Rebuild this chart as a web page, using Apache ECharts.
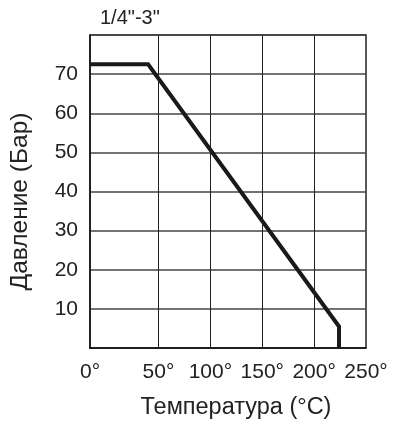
<!DOCTYPE html>
<html>
<head>
<meta charset="utf-8">
<script src="https://cdn.jsdelivr.net/npm/echarts@6/dist/echarts.min.js"></script>
<style>
  html, body { margin: 0; padding: 0; background: #fff; }
  #chart { width: 400px; height: 427px; }
</style>
</head>
<body>
<div id="chart"></div>
<script>
  // данные
  var temperature = [-16, 40, 224, 224]
  var pressure = [72.5, 72.5, 5.5, 0]
  var xTickValues = [-16, 50, 100, 150, 200, 250]
  var xTickLabels = ['0°', '50°', '100°', '150°', '200°', '250°']
  var xGridValues = [50, 100, 150, 200]
  var yTickLabels = ['10', '20', '30', '40', '50', '60', '70']

  var font = "'Liberation Sans', Arial, sans-serif"
  var myChart = echarts.init(document.getElementById('chart'))

  var points = []
  for (var i = 0; i < temperature.length; i++) {
    points.push([temperature[i], pressure[i]])
  }
  var vLines = xGridValues.map(function (v) { return { xAxis: v } })

  var option = {
    animation: false,
    backgroundColor: '#fff',
    title: {
      text: '1/4"-3"',
      left: 95,
      top: 3,
      textStyle: { fontFamily: font, fontSize: 20, fontWeight: 'normal', color: '#222' }
    },
    grid: { left: 90, right: 34, top: 35, bottom: 79, show: true, borderColor: '#222', borderWidth: 1.5 },
    xAxis: {
      type: 'value',
      min: -16,
      max: 250,
      name: 'Температура (°C)',
      nameLocation: 'middle',
      nameGap: 48,
      nameTextStyle: { fontFamily: font, fontSize: 23.5, color: '#222', padding: [0, 0, 0, 16] },
      axisLine: { show: true, onZero: false, lineStyle: { color: '#111', width: 1.5 } },
      axisTick: { show: false, customValues: xTickValues },
      axisLabel: {
        customValues: xTickValues,
        margin: 14,
        fontFamily: font,
        fontSize: 21,
        color: '#222',
        formatter: function (v) {
          var k = xTickValues.indexOf(v)
          return k >= 0 ? xTickLabels[k] : ''
        }
      },
      splitLine: { show: false }
    },
    yAxis: {
      type: 'value',
      min: 0,
      max: 80,
      interval: 10,
      name: 'Давление (Бар)',
      nameLocation: 'middle',
      nameGap: 57,
      nameRotate: 90,
      nameTextStyle: { fontFamily: font, fontSize: 24.5, color: '#222', padding: [0, 20, 0, 0] },
      axisLine: { show: true, onZero: false, lineStyle: { color: '#111', width: 1.5 } },
      axisTick: { show: false },
      axisLabel: {
        margin: 12,
        fontFamily: font,
        fontSize: 21,
        color: '#222',
        formatter: function (v) {
          return yTickLabels.indexOf(String(v)) >= 0 ? String(v) : ''
        }
      },
      splitLine: { show: true, lineStyle: { color: '#444', width: 1.5 } }
    },
    series: [
      {
        type: 'line',
        data: points,
        showSymbol: false,
        z: 3,
        lineStyle: { color: '#1a1a1a', width: 4, join: 'miter' },
        markLine: {
          silent: true,
          symbol: 'none',
          label: { show: false },
          lineStyle: { type: 'solid', color: '#222', width: 1 },
          data: vLines
        }
      }
    ]
  }

  myChart.setOption(option)
</script>
</body>
</html>
